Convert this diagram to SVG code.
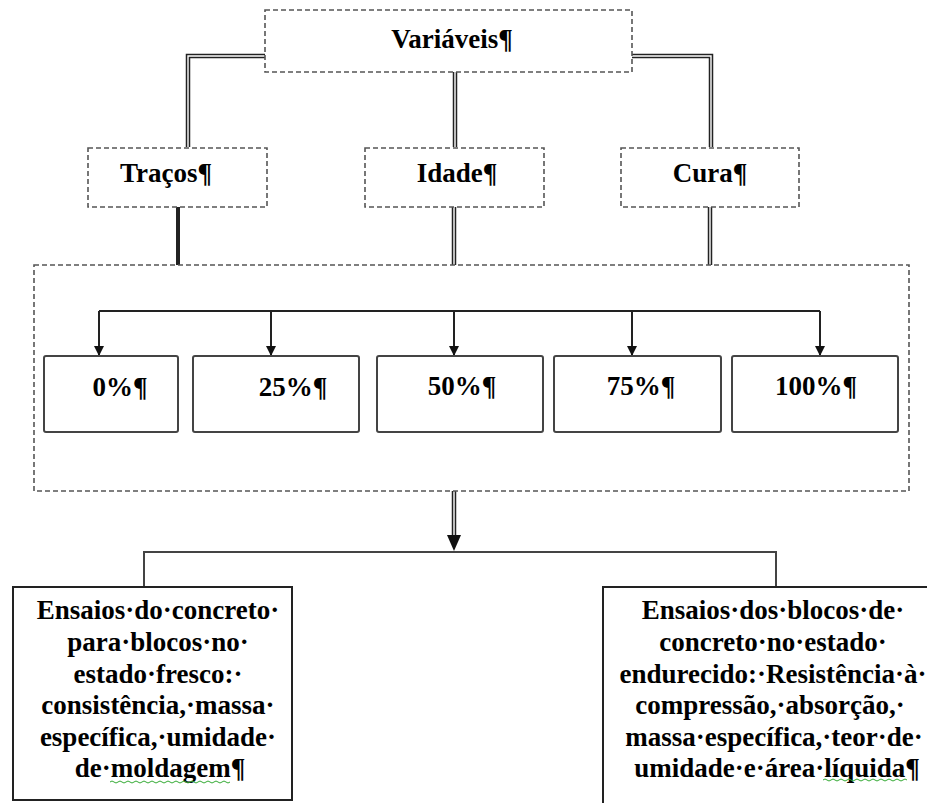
<svg xmlns="http://www.w3.org/2000/svg" width="927" height="803" viewBox="0 0 927 803">
<defs>
<style>
.dash{fill:#fff;stroke:#555;stroke-width:1.6;stroke-dasharray:5 3}
.box{fill:#fff;stroke:#444;stroke-width:2}
.t{font-family:"Liberation Serif","Times New Roman",serif;font-weight:bold;font-size:27px;fill:#000;text-anchor:middle}
.dblo{fill:none;stroke:#222;stroke-width:4.5}
.dbli{fill:none;stroke:#fff;stroke-width:1.4}
.ln{fill:none;stroke:#222;stroke-width:2}
.wavy{fill:none;stroke:#3a3;stroke-width:1}
</style>
<marker id="ah" markerWidth="10" markerHeight="10" refX="9" refY="5" orient="auto" markerUnits="userSpaceOnUse">
<path d="M0,0 L10,5 L0,10 Z" fill="#111"/>
</marker>
</defs>

<g id="connectors">
<path class="dblo" d="M265,56 H188 V147"/>
<path class="dbli" d="M265,56 H188 V147"/>
<path class="dblo" d="M632,56 H711 V147"/>
<path class="dbli" d="M632,56 H711 V147"/>
<path class="dblo" d="M455,72 V147"/>
<path class="dbli" d="M455,72 V147"/>
<path class="ln" style="stroke-width:4" d="M178,207 V265"/>
<path class="dblo" d="M454,207 V265"/>
<path class="dbli" d="M454,207 V265"/>
<path class="dblo" d="M710,207 V265"/>
<path class="dbli" d="M710,207 V265"/>
<path class="ln" d="M99,311 H820"/>
<path class="ln" d="M99,311 V355" marker-end="url(#ah)"/>
<path class="ln" d="M271,311 V355" marker-end="url(#ah)"/>
<path class="ln" d="M454,311 V355" marker-end="url(#ah)"/>
<path class="ln" d="M632,311 V355" marker-end="url(#ah)"/>
<path class="ln" d="M820,311 V355" marker-end="url(#ah)"/>
<path class="dblo" d="M454,491 V537"/>
<path class="dbli" d="M454,491 V537"/>
<path d="M447,535 L461,535 L454,551 Z" fill="#111"/>
<path class="ln" style="stroke:#444" d="M144,587 V552 H776 V587"/>
</g>

<g id="variaveis">
<rect class="dash" x="265" y="10" width="367" height="62"/>
<text class="t" x="452" y="48">Variáveis¶</text>
</g>
<g id="tracos">
<rect class="dash" x="88" y="148" width="179" height="59"/>
<text class="t" x="166" y="182">Traços¶</text>
</g>
<g id="idade">
<rect class="dash" x="365" y="148" width="179" height="59"/>
<text class="t" x="457" y="182">Idade¶</text>
</g>
<g id="cura">
<rect class="dash" x="621" y="148" width="178" height="59"/>
<text class="t" x="710" y="182">Cura¶</text>
</g>

<g id="container">
<rect class="dash" style="fill:none" x="34" y="265" width="875" height="226"/>
</g>
<g id="p0">
<rect class="box" x="44" y="356" width="134" height="76" rx="2"/>
<text class="t" x="120" y="396">0%¶</text>
</g>
<g id="p25">
<rect class="box" x="193" y="356" width="166" height="76" rx="2"/>
<text class="t" x="293" y="396">25%¶</text>
</g>
<g id="p50">
<rect class="box" x="377" y="356" width="166" height="76" rx="2"/>
<text class="t" x="462" y="395">50%¶</text>
</g>
<g id="p75">
<rect class="box" x="554" y="356" width="167" height="76" rx="2"/>
<text class="t" x="641" y="395">75%¶</text>
</g>
<g id="p100">
<rect class="box" x="732" y="356" width="166" height="76" rx="2"/>
<text class="t" x="816" y="395">100%¶</text>
</g>

<g id="fresco">
<rect fill="#fff" stroke="#222" stroke-width="2" x="13" y="587" width="279" height="213"/>
<text class="t" x="158" y="619">Ensaios·do·concreto·</text>
<text class="t" x="158" y="651">para·blocos·no·</text>
<text class="t" x="158" y="683">estado·fresco:·</text>
<text class="t" x="158" y="714">consistência,·massa·</text>
<text class="t" x="158" y="746">específica,·umidade·</text>
<text class="t" x="160" y="777">de·moldagem¶</text>
<path class="wavy" d="M110,782 q2,-2 4,0 t4,0 t4,0 t4,0 t4,0 t4,0 t4,0 t4,0 t4,0 t4,0 t4,0 t4,0 t4,0 t4,0 t4,0 t4,0 t4,0 t4,0 t4,0 t4,0 t4,0 t4,0 t4,0 t4,0 t4,0 t4,0 t4,0 t4,0 t4,0 t4,0"/>
</g>

<g id="endurecido">
<path fill="#fff" stroke="#222" stroke-width="2" d="M603,803 V587 H927"/>
<text class="t" x="773" y="619">Ensaios·dos·blocos·de·</text>
<text class="t" x="773" y="651">concreto·no·estado·</text>
<text class="t" x="773" y="683">endurecido:·Resistência·à·</text>
<text class="t" x="770" y="714">compressão,·absorção,·</text>
<text class="t" x="774" y="746">massa·específica,·teor·de·</text>
<text class="t" x="777" y="777">umidade·e·área·líquida¶</text>
<path class="wavy" d="M823,780 q2,-2 4,0 t4,0 t4,0 t4,0 t4,0 t4,0 t4,0 t4,0 t4,0 t4,0 t4,0 t4,0 t4,0 t4,0 t4,0 t4,0 t4,0 t4,0 t4,0 t4,0 t4,0"/>
</g>
</svg>
